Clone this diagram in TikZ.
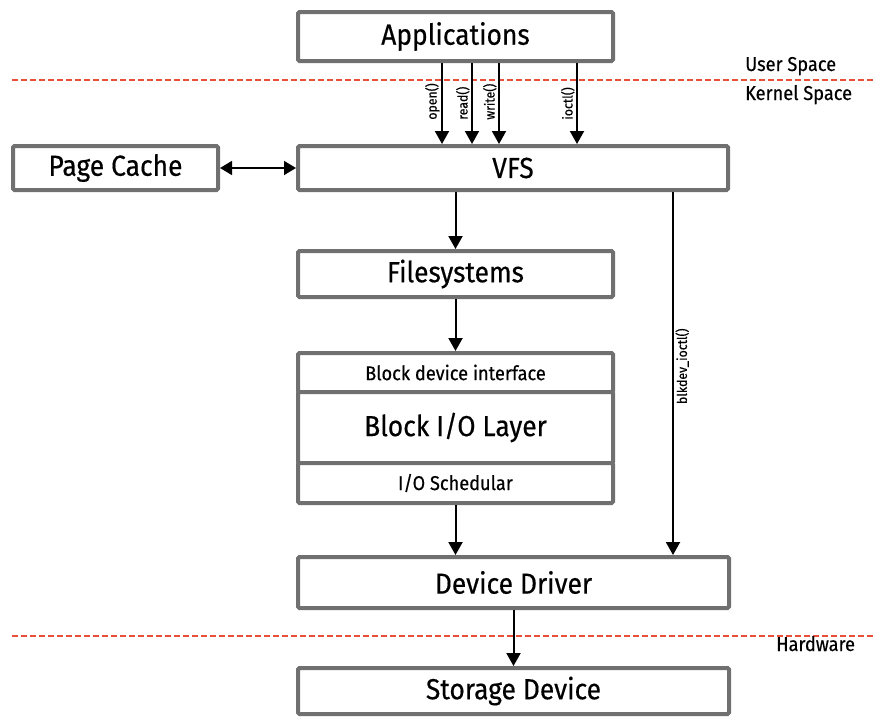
\documentclass[tikz,border=0pt]{standalone}
\usepackage{fontspec}
\setmainfont[FakeStretch=0.91, FakeBold=0.4]{Fira Sans}
\usetikzlibrary{arrows.meta,positioning}
\definecolor{boxgray}{HTML}{707070}
\definecolor{spacered}{HTML}{E8503A}
\tikzset{
  layer/.style={draw=boxgray, line width=4pt, fill=white, rounded corners=1.5pt,
    inner sep=0pt, minimum height=44pt, font=\fontsize{29}{32}\selectfont},
  sublayer/.style={layer, font=\fontsize{20}{22}\selectfont},
  call/.style={-{Triangle[length=13pt,width=14pt]}, line width=2pt},
  calllabel/.style={font=\fontsize{13.5}{15}\selectfont, rotate=90, inner sep=1.5pt},
  spaceline/.style={spacered, line width=1.5pt, dash pattern=on 6pt off 3pt},
  spacelabel/.style={font=\fontsize{20}{22}\selectfont, anchor=base west, inner sep=0pt},
}
\begin{document}
\begin{tikzpicture}[x=1pt, y=-1pt]
  \useasboundingbox (0,0) rectangle (873,721);

  % user / kernel / hardware borders
  \draw[spaceline] (12,80) -- (873,80);
  \draw[spaceline] (12,636) -- (873,636);
  \node[spacelabel] (user) at (745,71) {User Space};
  \node[spacelabel] (kernel) at (745,100) {Kernel Space};
  \node[spacelabel] (hw) at (776,651) {Hardware};

  % layers
  \node[layer, minimum width=315pt, minimum height=49pt] (app) at (455.5,36.5) {Applications};
  \node[layer, minimum width=430pt] (vfs) at (513,168) {VFS};
  \node[layer, minimum width=205pt] (pc) at (115.5,168) {Page Cache};
  \node[layer, minimum width=315pt, minimum height=46pt] (fs) at (455.5,274) {Filesystems};
  \node[sublayer, minimum width=315pt, minimum height=39pt] (bdi) at (455.5,372.5) {Block device interface};
  \node[layer, minimum width=315pt, minimum height=71pt] (bio) at (455.5,427.5) {Block I/O Layer};
  \node[sublayer, minimum width=315pt, minimum height=40pt] (ios) at (455.5,483) {I/O Schedular};
  \node[layer, minimum width=431pt, minimum height=51pt] (dd) at (513.5,582.5) {Device Driver};
  \node[layer, minimum width=431pt, minimum height=46pt] (sd) at (513.5,691) {Storage Device};

  % system calls
  \foreach \dx/\fn in {-13.5/open, 16.5/read, 43.5/write, 121.5/ioctl} {
    \coordinate (\fn-top) at ([xshift=\dx pt]app.south);
    \draw[call] (\fn-top) -- (\fn-top |- vfs.north)
      node[calllabel, pos=0.73, anchor=south west] {\fn()};
  }

  \draw[{Triangle[length=12pt,width=14pt]}-{Triangle[length=12pt,width=14pt]}, line width=1.5pt] (pc.east) -- (vfs.west);
  \draw[call] (vfs.south -| fs.north) -- (fs.north);
  \draw[call] (fs.south) -- (bdi.north);
  \draw[call] (ios.south) -- (ios.south |- dd.north);
  \draw[call] (dd.south) -- (sd.north);

  \coordinate (blk-top) at ([xshift=160pt]vfs.south);
  \draw[call] (blk-top) -- (blk-top |- dd.north)
    node[calllabel, pos=0.48, anchor=north] {blkdev\_ioctl()};
\end{tikzpicture}
\end{document}
